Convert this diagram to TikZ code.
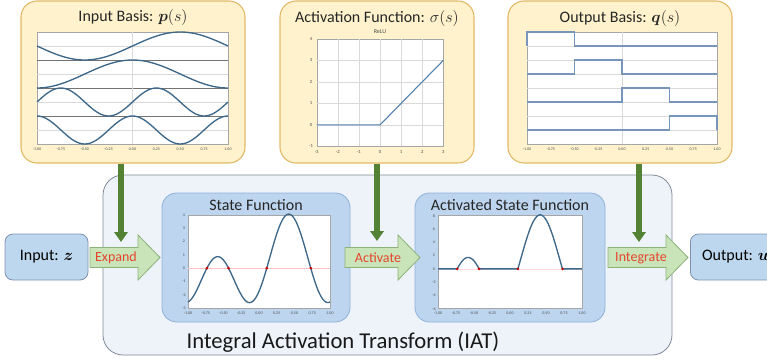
\documentclass[tikz,border=0pt]{standalone}
\usepackage{fontspec}
\setmainfont{Carlito}
\usepackage{amsmath,bm}
\usetikzlibrary{arrows.meta,fit}

\definecolor{panelyel}{HTML}{FFF2CC}
\definecolor{panelyelb}{HTML}{E2B866}
\definecolor{iatfill}{HTML}{EEF3FA}
\definecolor{iatline}{HTML}{7F8A99}
\definecolor{panelblu}{HTML}{BDD5EE}
\definecolor{panelblub}{HTML}{8EB1D8}
\definecolor{boxblu}{HTML}{BDD7EE}
\definecolor{boxblub}{HTML}{7F93AD}
\definecolor{flowfill}{HTML}{C9E4B8}
\definecolor{flowline}{HTML}{8CB27A}
\definecolor{flowtext}{HTML}{E5452F}
\definecolor{dkgreen}{HTML}{548235}
\definecolor{curveblu}{HTML}{3E6889}
\definecolor{stepblu}{HTML}{7896BC}
\definecolor{relublu}{HTML}{4F7FAF}

\tikzset{
  ypanel/.style={draw=panelyelb, fill=panelyel, line width=0.8pt, rounded corners=12pt, inner sep=0pt},
  bpanel/.style={draw=panelblub, fill=panelblu, line width=0.6pt, rounded corners=11pt, inner sep=0pt},
  iat/.style={draw=iatline, fill=iatfill, line width=0.6pt, rounded corners=15pt, inner sep=0pt},
  iobox/.style={draw=boxblub, fill=boxblu, line width=0.6pt, rounded corners=6pt, font=\fontsize{12}{14}\selectfont},
  flow/.style={draw=flowline, fill=flowfill, line width=0.6pt},
  flowlbl/.style={text=flowtext, font=\fontsize{10.5}{12}\selectfont, inner sep=0pt},
  feed/.style={draw=dkgreen, line width=4.3pt, -{Triangle[width=10pt,length=7.5pt]}},
  ptitle/.style={font=\fontsize{12}{14}\selectfont, text=black!85, inner sep=0pt},
  plotbg/.style={fill=white, draw=black!35, line width=0.3pt},
  gridln/.style={draw=black!15, line width=0.3pt},
  bandln/.style={draw=black!55, line width=0.4pt},
  tick/.style={font=\fontsize{3}{3}\selectfont, text=black!70, inner sep=0pt},
  basis/.style={draw=curveblu, line width=1pt},
  stepln/.style={draw=stepblu, line width=1.1pt},
  zero/.style={fill=red!80!black, draw=none}
}

% flow arrow: start x, tip x
\newcommand{\flowarrow}[2]{%
  \draw[flow] (#1,247.5) -- ({#2-22},247.5) -- ({#2-22},235) -- (#2,257.5)
    -- ({#2-22},280) -- ({#2-22},267.5) -- (#1,267.5) -- cycle;}

\begin{document}
\begin{tikzpicture}[x=0.75pt, y=-0.75pt,
    declare function={sf(\s)=1.55*sin(180*\s)+0.4*cos(180*\s)+1.2*sin(360*\s)-2.15*cos(360*\s);}]
    \useasboundingbox (0,0) rectangle (767,360);

    % IAT frame
    \node[iat, fit={(103,175) (672,355)}] (iatbox) {};
    \node[font=\fontsize{17}{19}\selectfont, text=black!90] (iatlbl) at (343,342) {Integral Activation Transform (IAT)};

    % top panels
    \node[ypanel, fit={(21,1) (245,163)}] (inbasis) {};
    \node[ypanel, fit={(280,1) (474,163)}] (actfn) {};
    \node[ypanel, fit={(508,1) (732,163)}] (outbasis) {};
    \node[ptitle] (tin) at (133,18) {Input Basis: $\bm{p}(s)$};
    \node[ptitle] (tact) at (377,19) {Activation Function: $\sigma(s)$};
    \node[ptitle] (tout) at (620,19) {Output Basis: $\bm{q}(s)$};

    % input basis
    \draw[plotbg] (37,32) rectangle (228,144);
    \foreach \k in {1,3,5,7} \draw[gridln] (37,{32+14*\k}) -- (228,{32+14*\k});
    \foreach \k in {2,4,6} \draw[bandln] (37,{32+14*\k}) -- (228,{32+14*\k});
    \draw[gridln] (132.5,32) -- (132.5,144);
    \draw[basis] plot[domain=-1:1, samples=81] ({132.5+95.5*\x},{46-14*sin(180*\x)});
    \draw[basis] plot[domain=-1:1, samples=81] ({132.5+95.5*\x},{74-14*cos(180*\x)});
    \draw[basis] plot[domain=-1:1, samples=81] ({132.5+95.5*\x},{102-14*sin(360*\x)});
    \draw[basis] plot[domain=-1:1, samples=81] ({132.5+95.5*\x},{130-14*cos(360*\x)});
    \foreach \l [count=\i from 0] in {-1.00,-0.75,-0.50,-0.25,0.00,0.25,0.50,0.75,1.00}
        \node[tick] (ib\i) at ({37+191*\i/8},149) {\l};

    % activation function
    \node[tick, font=\fontsize{4.5}{5}\selectfont] (relu) at (380,32) {ReLU};
    \draw[plotbg] (316.7,39) rectangle (443.3,146.4);
    \foreach \v in {-2,...,2} \draw[gridln] ({380+21.1*\v},39) -- ({380+21.1*\v},146.4);
    \foreach \v in {0,...,3} \draw[gridln] (316.7,{124.9-21.5*\v}) -- (443.3,{124.9-21.5*\v});
    \draw[draw=relublu, line width=0.8pt] (316.7,124.9) -- (380,124.9) -- (443.3,{124.9-3*21.5});
    \foreach \v [count=\i] in {-3,...,3}
        \node[tick, font=\fontsize{3.5}{4}\selectfont] (ax\i) at ({380+21.1*\v},152) {\v};
    \foreach \v [count=\i] in {-1,...,4}
        \node[tick, font=\fontsize{3.5}{4}\selectfont] (ay\i) at (311,{124.9-21.5*\v}) {\v};

    % output basis
    \draw[plotbg] (527,32) rectangle (717,144);
    \foreach \k in {1,...,7} \draw[gridln] (527,{32+14*\k}) -- (717,{32+14*\k});
    \draw[gridln] (622,32) -- (622,144);
    \draw[stepln] (527,46) -- (527,32) -- (574.5,32) -- (574.5,46) -- (717,46);
    \draw[stepln] (527,74) -- (574.5,74) -- (574.5,60) -- (622,60) -- (622,74) -- (717,74);
    \draw[stepln] (527,102) -- (622,102) -- (622,88) -- (669.5,88) -- (669.5,102) -- (717,102);
    \draw[stepln] (527,130) -- (669.5,130) -- (669.5,116) -- (717,116) -- (717,130);
    \foreach \l [count=\i from 0] in {-1.00,-0.75,-0.50,-0.25,0.00,0.25,0.50,0.75,1.00}
        \node[tick] (ob\i) at ({527+190*\i/8},149) {\l};

    % state function
    \node[bpanel, fit={(162,193) (350,322)}] (state) {};
    \node[ptitle] (tstate) at (256,205) {State Function};
    \draw[plotbg] (188,215) rectangle (330,308);
    \draw[red!25, line width=0.4pt] (188,268.1) -- (330,268.1);
    \draw[basis] plot[domain=-1:1, samples=121] ({259+71*\x},{268.1-13.3*sf(\x)});
    \foreach \z in {-0.733,-0.43,0.11,0.73} \fill[zero] ({259+71*\z},268.1) circle (1.1pt);
    \foreach \v [count=\i] in {-3,...,4} \node[tick] (sy\i) at (184,{268.1-13.3*\v}) {\v};
    \foreach \l [count=\i from 0] in {-1.00,-0.75,-0.50,-0.25,0.00,0.25,0.50,0.75,1.00}
        \node[tick] (sx\i) at ({188+142*\i/8},313) {\l};

    % activated state function
    \node[bpanel, fit={(415,193) (605,322)}] (actstate) {};
    \node[ptitle] (tactst) at (510,205) {Activated State Function};
    \draw[plotbg] (438,215) rectangle (582,308);
    \draw[red!15, line width=0.4pt] (438,268.9) -- (582,268.9);
    \draw[basis] plot[domain=-1:1, samples=161] ({510+72*\x},{268.9-13.3*max(sf(\x),0)});
    \foreach \z in {-0.733,-0.43,0.11,0.73} \fill[zero] ({510+72*\z},268.9) circle (1.1pt);
    \foreach \v [count=\i] in {-6,-4,...,8} \node[tick] (ay\i) at (434,{268.9-6.65*\v}) {\v};
    \foreach \l [count=\i from 0] in {-1.00,-0.75,-0.50,-0.25,0.00,0.25,0.50,0.75,1.00}
        \node[tick] (ax\i) at ({438+144*\i/8},313) {\l};

    % input and output
    \node[iobox, minimum width=62.25pt, minimum height=34.5pt] (inp) at (46.5,257) {Input: $\bm{z}$};
    \node[iobox, minimum width=67.5pt, minimum height=34.5pt, anchor=west] (outp) at (690,257) {Output: $\bm{u}$};

    % flow arrows
    \flowarrow{90}{160}
    \flowarrow{345}{420}
    \flowarrow{608}{688}
    \node[flowlbl] (expand) at (116,258) {Expand};
    \node[flowlbl] (activate) at (378,258) {Activate};
    \node[flowlbl] (integrate) at (641,258) {Integrate};

    % feeds from the top panels
    \coordinate (fin) at (121,242);
    \coordinate (fact) at (377,241);
    \coordinate (fout) at (639,242);
    \draw[feed] (inbasis.south -| fin) -- (fin);
    \draw[feed] (actfn.south -| fact) -- (fact);
    \draw[feed] (outbasis.south -| fout) -- (fout);
\end{tikzpicture}
\end{document}
